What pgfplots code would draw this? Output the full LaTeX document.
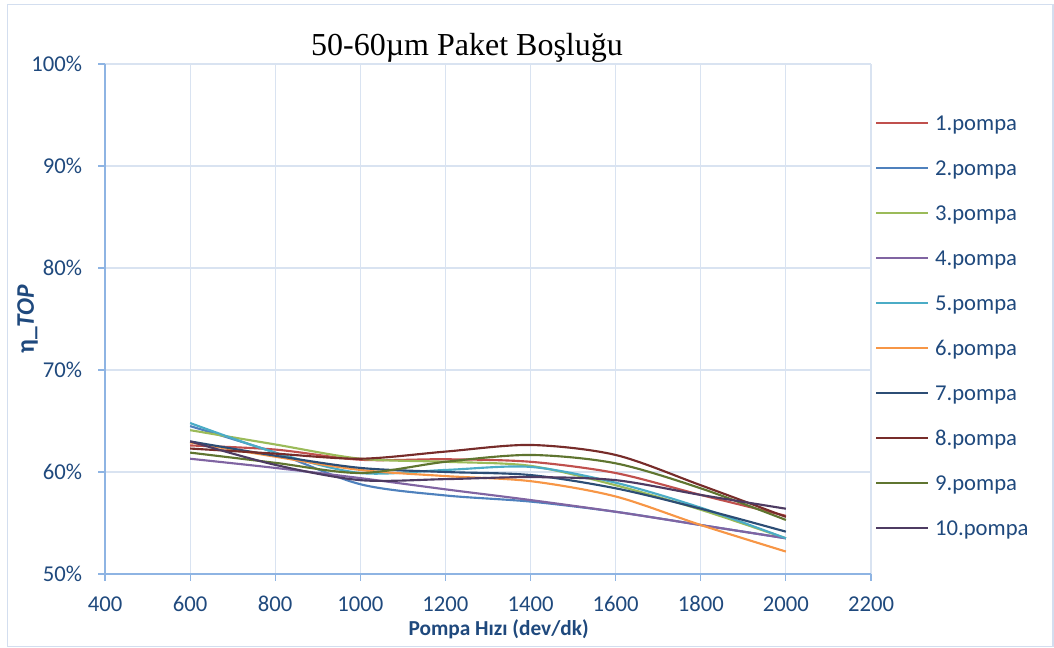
\documentclass[border=0pt]{standalone}
\usepackage{fontspec}
\setmainfont{Carlito}
\newfontfamily\titlefont{Liberation Serif}
\usepackage{pgfplots}
\pgfplotsset{compat=1.18}
\definecolor{txtblue}{HTML}{1F497D}
\definecolor{axblue}{HTML}{8EB4E3}
\definecolor{grd}{HTML}{D9E3F1}
\definecolor{bord}{HTML}{D3DEEF}
\definecolor{c1}{HTML}{C0504D}
\definecolor{c2}{HTML}{4F81BD}
\definecolor{c3}{HTML}{9BBB59}
\definecolor{c4}{HTML}{8064A2}
\definecolor{c5}{HTML}{4BACC6}
\definecolor{c6}{HTML}{F79646}
\definecolor{c7}{HTML}{2C4D75}
\definecolor{c8}{HTML}{772C2A}
\definecolor{c9}{HTML}{5F7530}
\definecolor{c10}{HTML}{4D3B62}
\begin{document}
\begin{tikzpicture}
\begin{axis}[
  scale only axis,
  width=574.5pt, height=382.5pt,
  xmin=400, xmax=2200, ymin=50, ymax=100,
  xtick={400,600,...,2200}, ytick={50,60,...,100},
  grid=major,
  major grid style={grd, line width=0.9pt},
  axis x line*=bottom, axis y line*=left,
  axis line style={axblue, line width=0.9pt},
  every outer x axis line/.append style={-},
  every outer y axis line/.append style={-},
  tick align=outside, major tick length=5pt,
  tick style={axblue, line width=0.9pt},
  /pgf/number format/assume math mode=true,
  /pgf/number format/1000 sep={},
  yticklabel={\pgfmathprintnumber{\tick}\%},
  tick label style={font=\fontsize{17}{20}\selectfont, text=txtblue},
  xticklabel style={anchor=center, yshift=-17.5pt},
  yticklabel style={anchor=east, inner sep=0pt, xshift=-12pt},
  xlabel={\bfseries Pompa Hızı (dev/dk)},
  ylabel={\bfseries η\_\textit{TOP}},
  label style={font=\fontsize{16}{19}\selectfont, text=txtblue},
  xlabel style={at={(axis description cs:0.5,0)}, anchor=center, yshift=-41.5pt, xshift=8pt},
  ylabel style={at={(axis description cs:0,0.5)}, anchor=center, font=\fontsize{19}{22}\selectfont, yshift=58pt},
  legend style={at={(axis description cs:1.005,0.902)}, anchor=north west, draw=none, fill=none, inner sep=0pt,
    font=\fontsize{17}{20}\selectfont, text=txtblue, row sep=17.75pt, column sep=4.5pt,
    nodes={inner sep=0pt, text height=12pt, text depth=4pt}},
  legend cell align=left,
  legend image code/.code={\draw[#1, line width=1.5pt] (0pt,1.5pt) -- (39pt,1.5pt);},
  every axis plot/.append style={line width=1.6pt, smooth, no markers},
  clip=false,
]
\addplot[c1] coordinates {(600,62.6)(800,62.2)(1000,61.2)(1200,61.25)(1400,61.0)(1600,59.9)(1800,57.75)(2000,55.7)};
\addlegendentry{1.pompa}
\addplot[c2] coordinates {(600,64.5)(800,61.9)(1000,58.8)(1200,57.7)(1400,57.1)(1600,56.1)(1800,54.8)(2000,53.5)};
\addlegendentry{2.pompa}
\addplot[c3] coordinates {(600,64.1)(800,62.7)(1000,61.3)(1200,61.0)(1400,60.6)(1600,58.7)(1800,56.3)(2000,53.5)};
\addlegendentry{3.pompa}
\addplot[c4] coordinates {(600,61.3)(800,60.4)(1000,59.4)(1200,58.3)(1400,57.25)(1600,56.1)(1800,54.8)(2000,53.5)};
\addlegendentry{4.pompa}
\addplot[c5] coordinates {(600,64.8)(800,61.9)(1000,59.9)(1200,60.2)(1400,60.5)(1600,58.95)(1800,56.5)(2000,53.5)};
\addlegendentry{5.pompa}
\addplot[c6] coordinates {(600,62.9)(800,61.5)(1000,60.2)(1200,59.6)(1400,59.1)(1600,57.6)(1800,54.8)(2000,52.2)};
\addlegendentry{6.pompa}
\addplot[c7] coordinates {(600,63.0)(800,61.6)(1000,60.4)(1200,60.0)(1400,59.7)(1600,58.4)(1800,56.4)(2000,54.15)};
\addlegendentry{7.pompa}
\addplot[c8] coordinates {(600,62.3)(800,61.8)(1000,61.3)(1200,62.0)(1400,62.65)(1600,61.67)(1800,58.7)(2000,55.6)};
\addlegendentry{8.pompa}
\addplot[c9] coordinates {(600,61.9)(800,60.9)(1000,59.9)(1200,61.0)(1400,61.67)(1600,60.85)(1800,58.4)(2000,55.3)};
\addlegendentry{9.pompa}
\addplot[c10] coordinates {(600,63.0)(800,60.7)(1000,59.2)(1200,59.3)(1400,59.5)(1600,59.2)(1800,57.75)(2000,56.4)};
\addlegendentry{10.pompa}
\end{axis}
\node[font=\titlefont\fontsize{24}{28}\selectfont, anchor=center] at (271.5pt,394.5pt) {50-60µm Paket Boşluğu};
\draw[bord, line width=1pt] (-73.1pt,-54.4pt) rectangle (711pt,427pt);
\pgfresetboundingbox
\path[use as bounding box] (-78.75pt,-55.5pt) rectangle (711.75pt,430.5pt);
\end{tikzpicture}
\end{document}
